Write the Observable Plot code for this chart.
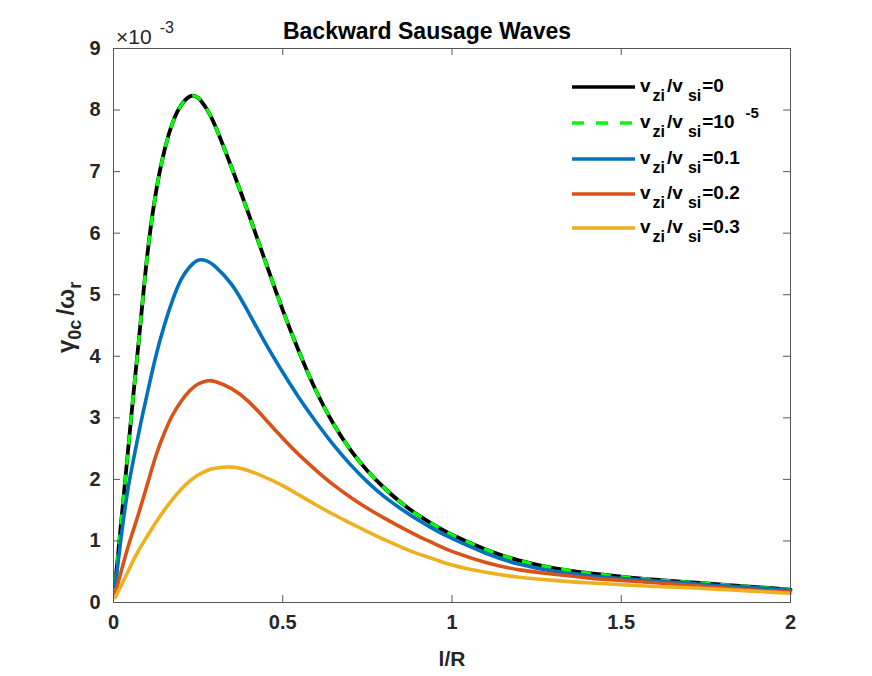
<!DOCTYPE html>
<html>
<head>
<meta charset="utf-8">
<script src="https://cdn.jsdelivr.net/npm/d3@7"></script>
<script src="https://cdn.jsdelivr.net/npm/@observablehq/plot@0.6"></script>
<style>
  body { margin: 0; background: #fff; }
  #chart svg { display: block; }
</style>
</head>
<body>
<div id="chart"></div>
<script>
// ---- data (growth rate gamma_0c/omega_r, in units of 1e-3) ----
const lR = [0.005,0.02,0.04,0.06,0.08,0.1,0.125,0.15,0.175,0.2,0.225,0.25,0.275,0.3,0.35,0.4,0.45,0.5,0.55,0.6,0.65,0.7,0.75,0.8,0.85,0.9,0.95,1.0,1.1,1.2,1.3,1.4,1.5,1.6,1.7,1.8,1.9,2.0];

const gamma_v0    = [0.3,1.15,2.3,3.45,4.55,5.65,6.65,7.33,7.8,8.08,8.22,8.2,8.02,7.75,7.05,6.3,5.52,4.75,4.05,3.42,2.9,2.48,2.14,1.86,1.62,1.42,1.25,1.1,0.86,0.68,0.56,0.48,0.42,0.37,0.33,0.29,0.25,0.21];
const gamma_v1em5 = [0.3,1.15,2.3,3.45,4.55,5.65,6.65,7.33,7.8,8.08,8.22,8.2,8.02,7.75,7.05,6.3,5.52,4.75,4.05,3.42,2.9,2.48,2.14,1.86,1.62,1.42,1.25,1.1,0.86,0.68,0.56,0.48,0.42,0.37,0.33,0.29,0.25,0.21];
const gamma_v01   = [0.25,0.95,1.75,2.35,2.9,3.4,4.0,4.5,4.92,5.25,5.45,5.56,5.55,5.46,5.16,4.7,4.2,3.74,3.31,2.92,2.56,2.24,1.96,1.72,1.52,1.34,1.18,1.04,0.8,0.62,0.51,0.44,0.39,0.35,0.31,0.27,0.24,0.2];
const gamma_v02   = [0.15,0.45,0.85,1.2,1.55,1.92,2.38,2.75,3.05,3.27,3.44,3.55,3.6,3.59,3.47,3.26,2.97,2.67,2.39,2.14,1.91,1.71,1.53,1.37,1.22,1.08,0.95,0.83,0.65,0.53,0.46,0.4,0.36,0.32,0.28,0.24,0.2,0.17];
const gamma_v03   = [0.08,0.25,0.47,0.7,0.9,1.08,1.3,1.5,1.68,1.84,1.97,2.07,2.14,2.18,2.2,2.14,2.03,1.9,1.74,1.58,1.43,1.29,1.15,1.02,0.9,0.79,0.7,0.61,0.49,0.41,0.36,0.32,0.29,0.26,0.24,0.21,0.18,0.15];

const seriesColors = ["#000000", "#00ff00", "#0072bd", "#d95319", "#edb120"];
const seriesValues = ["0", "10", "0.1", "0.2", "0.3"];
const xTicks = [0, 0.5, 1, 1.5, 2];
const yTicks = [0,1,2,3,4,5,6,7,8,9];
const titleText = "Backward Sausage Waves";
const xLabel = "l/R";

// ---- layout ----
const W = 872, H = 676;
const mL = 113, mR = 82, mT = 48, mB = 74;
const innerW = W - mL - mR, innerH = H - mT - mB;
const axisColor = "#555555";
const tickLen = 7;
const FONT = "'Liberation Sans', Arial, Helvetica, sans-serif";

const lineMark = (vals, color, extra = {}) =>
  Plot.line(vals, {x: lR, y: vals, stroke: color, strokeWidth: 3.6, curve: "natural", ...extra});

const chart = Plot.plot({
  width: W, height: H,
  marginLeft: mL, marginRight: mR, marginTop: mT, marginBottom: mB,
  x: {domain: [0, 2]},
  y: {domain: [0, 9]},
  style: {fontFamily: FONT, fontSize: "20px", fontWeight: "bold", color: "#262626", background: "#ffffff", overflow: "visible"},
  marks: [
    lineMark(gamma_v0, seriesColors[0], {strokeWidth: 3.8}),
    lineMark(gamma_v1em5, seriesColors[1], {strokeDasharray: "10,10", strokeLinecap: "butt", strokeWidth: 3.4}),
    lineMark(gamma_v01, seriesColors[2]),
    lineMark(gamma_v02, seriesColors[3]),
    lineMark(gamma_v03, seriesColors[4]),
    Plot.frame({stroke: axisColor, strokeWidth: 1}),
    Plot.tickX(xTicks, {x: d => d, insetTop: innerH - tickLen, stroke: axisColor}),
    Plot.tickX(xTicks, {x: d => d, insetBottom: innerH - tickLen, stroke: axisColor}),
    Plot.tickY(yTicks, {y: d => d, insetRight: innerW - tickLen, stroke: axisColor}),
    Plot.tickY(yTicks, {y: d => d, insetLeft: innerW - tickLen, stroke: axisColor}),
    Plot.axisX({ticks: xTicks, tickSize: 0, tickPadding: 12, label: null, tickFormat: d => String(d), fill: "#262626"}),
    Plot.axisY({ticks: yTicks, tickSize: 0, tickPadding: 13, label: null, tickFormat: d => String(d), fill: "#262626"})
  ]
});
document.getElementById("chart").appendChild(chart);

// ---- annotations (rich text) ----
const svg = d3.select(chart);
const g = svg.append("g").attr("font-family", FONT).attr("fill", "#000").attr("text-anchor", "start");

// title
g.append("text").attr("x", 427).attr("y", 39).attr("text-anchor", "middle")
  .attr("font-size", 23).attr("font-weight", "bold").text(titleText);

// exponent label x10^-3
const ex = g.append("text").attr("x", 116).attr("y", 44).attr("font-size", 21).attr("font-weight", "normal").attr("fill", "#262626");
ex.append("tspan").text("\u00d710");
ex.append("tspan").attr("dx", 8).attr("dy", -11).attr("font-size", 16).text("-3");

// x label
g.append("text").attr("x", 452).attr("y", 666).attr("text-anchor", "middle")
  .attr("font-size", 21).attr("font-weight", "bold").attr("fill", "#262626").text(xLabel);

// y label  gamma_0c / omega_r
const yl = g.append("text").attr("transform", "translate(74,353) rotate(-90)")
  .attr("font-size", 24).attr("font-weight", "bold").attr("fill", "#262626");
yl.append("tspan").text("\u03b3");
yl.append("tspan").attr("dy", 7).attr("font-size", 18).text("0c");
yl.append("tspan").attr("dx", 4).attr("dy", -7).text("/\u03c9");
yl.append("tspan").attr("dy", 7).attr("font-size", 18).text("r");

// legend
const legY = [87, 123, 159, 194, 228];
seriesColors.forEach((c, i) => {
  const y = legY[i];
  g.append("line").attr("x1", 572).attr("x2", 635).attr("y1", y).attr("y2", y)
    .attr("stroke", c).attr("stroke-width", 3.6)
    .attr("stroke-dasharray", i === 1 ? "12,12" : null);
  const t = g.append("text").attr("x", 640).attr("y", y + 5)
    .attr("font-size", 19).attr("font-weight", "bold").attr("fill", "#000");
  t.append("tspan").text("v");
  t.append("tspan").attr("dx", 2).attr("dy", 9).attr("font-size", 16).text("zi");
  t.append("tspan").attr("dx", 2).attr("dy", -9).text("/v");
  t.append("tspan").attr("dx", 5).attr("dy", 9).attr("font-size", 16).text("si");
  t.append("tspan").attr("dx", 1).attr("dy", -9).text("=" + seriesValues[i]);
  if (i === 1) {
    t.append("tspan").attr("dx", 11).attr("dy", -10).attr("font-size", 15).text("-5");
  }
});
</script>
</body>
</html>
